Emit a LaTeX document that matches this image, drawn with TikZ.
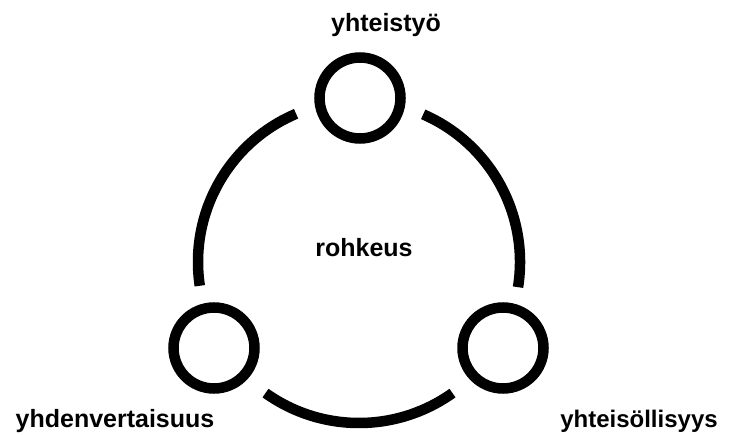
\documentclass[tikz,border=0pt]{standalone}
\usepackage{fontspec}
\setmainfont{Liberation Sans}
\begin{document}
\begin{tikzpicture}[x=1pt,y=1pt,
  ring/.style={draw=black, line width=10.5pt},
  smallc/.style={circle, draw=black, line width=10.5pt, minimum size=81pt, inner sep=0pt},
  lbl/.style={font=\fontsize{25}{30}\selectfont\bfseries, inner sep=0pt, anchor=base}]
\useasboundingbox (0,0) rectangle (730,-435);
\coordinate (C) at (359,-262);
% small circles
\node[smallc] (top) at (360,-98) {};
\node[smallc] (bl) at (214,-348) {};
\node[smallc] (br) at (503,-348) {};
% ring arcs
\draw[ring] ([shift={(113:161)}]C) arc[start angle=113, end angle=188.5, radius=161];
\draw[ring] ([shift={(234.5:161)}]C) arc[start angle=234.5, end angle=305.5, radius=161];
\draw[ring] ([shift={(-9:161)}]C) arc[start angle=-9, end angle=66.5, radius=161];
% labels
\node[lbl] (t1) at (386,-32) {yhteistyö};
\node[lbl] (t0) at (364,-257) {rohkeus};
\node[lbl] (t2) at (115,-427) {yhdenvertaisuus};
\node[lbl, font=\fontsize{24}{29}\selectfont\bfseries] (t3) at (639,-427) {yhteisöllisyys};
\end{tikzpicture}
\end{document}
